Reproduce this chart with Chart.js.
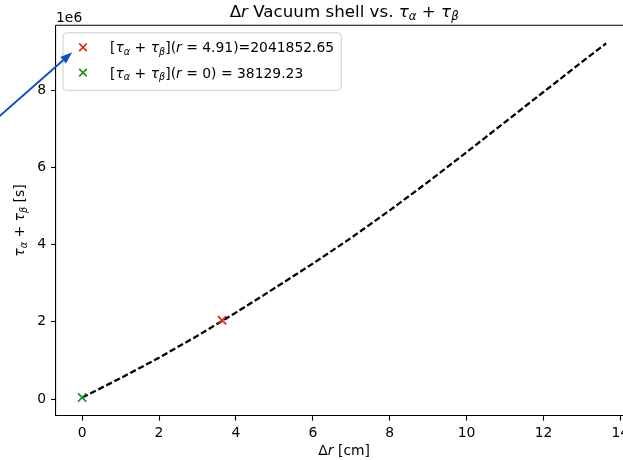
<!DOCTYPE html>
<html>
<head>
<meta charset="utf-8">
<script src="https://cdn.jsdelivr.net/npm/chart.js@4/dist/chart.umd.min.js"></script>
<style>
  html, body { margin: 0; padding: 0; background: #fff; overflow: hidden; }
  canvas { display: block; }
</style>
</head>
<body>
<canvas id="chart" width="645" height="460"></canvas>
<script>
// Vacuum shell thickness Δr [cm] against total time τα + τβ [s]
const drCm = [0, 1, 2, 3, 4, 5, 6, 7, 8, 9, 10, 11, 12, 13, 13.63];
const tauSum = [38129, 540000, 1070000, 1640000, 2240000, 2870000, 3510000, 4180000,
                4890000, 5630000, 6400000, 7180000, 7960000, 8740000, 9220000];

// highlighted points: Δr, τα + τβ and the radius quoted in the legend
const markDr = [3.64, 0];
const markTau = [2041852.65, 38129.23];
const markR = ['4.91', '0'];
const markSep = ['=', ' = '];
const markColors = ['#e8201c', '#1f8f1f'];

const xTicks = [0, 2, 4, 6, 8, 10, 12, 14];
const xTickLabels = ['0', '2', '4', '6', '8', '10', '12', '14'];
const yTicks = [0, 2e6, 4e6, 6e6, 8e6];
const yTickLabels = ['0', '2', '4', '6', '8'];
const yOffsetText = '1e6';

const FONT = '"DejaVu Sans", sans-serif';
const FS = 13.9;

// rich text: runs of {t, i (italic), sub (subscript)}
function richWidth(ctx, runs, size) {
  let w = 0;
  runs.forEach(r => {
    ctx.font = `${r.i ? 'italic ' : ''}${r.sub ? size * 0.7 : size}px ${FONT}`;
    w += ctx.measureText(r.t).width;
  });
  return w;
}
function drawRich(ctx, runs, x, y, size, align) {
  const w = richWidth(ctx, runs, size);
  let cx = align === 'center' ? x - w / 2 : align === 'right' ? x - w : x;
  ctx.textAlign = 'left';
  ctx.textBaseline = 'alphabetic';
  runs.forEach(r => {
    ctx.font = `${r.i ? 'italic ' : ''}${r.sub ? size * 0.7 : size}px ${FONT}`;
    ctx.fillText(r.t, cx, y + (r.sub ? size * 0.2 : 0));
    cx += ctx.measureText(r.t).width;
  });
}

const tauRuns = [
  { t: 'τ', i: 1 }, { t: 'α', i: 1, sub: 1 }, { t: ' + ' },
  { t: 'τ', i: 1 }, { t: 'β', i: 1, sub: 1 }
];
const titleRuns = [{ t: 'Δ' }, { t: 'r', i: 1 }, { t: ' Vacuum shell vs. ' }, ...tauRuns];
const xLabelRuns = [{ t: 'Δ' }, { t: 'r', i: 1 }, { t: ' [cm]' }];
const yLabelRuns = [...tauRuns, { t: ' [s]' }];
const legendRuns = markTau.map((v, i) => [
  { t: '[' }, ...tauRuns, { t: '](' }, { t: 'r', i: 1 },
  { t: ' = ' + markR[i] + ')' + markSep[i] + v.toFixed(2) }
]);

function drawCross(ctx, x, y, h, color) {
  ctx.save();
  ctx.strokeStyle = color;
  ctx.lineWidth = 1.7;
  ctx.beginPath();
  ctx.moveTo(x - h, y - h); ctx.lineTo(x + h, y + h);
  ctx.moveTo(x - h, y + h); ctx.lineTo(x + h, y - h);
  ctx.stroke();
  ctx.restore();
}

const framePlugin = {
  id: 'frame',
  afterDatasetsDraw(chart) {
    const { ctx, chartArea: a } = chart;
    ctx.save();
    ctx.strokeStyle = '#000';
    ctx.lineWidth = 1.1;
    ctx.beginPath();
    ctx.moveTo(a.left, a.top); ctx.lineTo(a.right, a.top); ctx.lineTo(a.right, a.bottom);
    ctx.stroke();
    ctx.restore();
  }
};

const textPlugin = {
  id: 'texts',
  afterDraw(chart) {
    const { ctx, chartArea: a } = chart;
    const mid = (a.left + a.right) / 2;
    ctx.save();
    ctx.fillStyle = '#000';
    drawRich(ctx, titleRuns, mid, a.top - 8.5, 16.7, 'center');
    drawRich(ctx, xLabelRuns, mid, 455, FS, 'center');
    ctx.font = `${FS}px ${FONT}`;
    ctx.textAlign = 'left';
    ctx.fillText(yOffsetText, a.left, 21.7);
    ctx.translate(24, (a.top + a.bottom) / 2);
    ctx.rotate(-Math.PI / 2);
    drawRich(ctx, yLabelRuns, 0, 0, FS, 'center');
    ctx.restore();
  }
};

const legendPlugin = {
  id: 'customLegend',
  afterDraw(chart) {
    const { ctx, chartArea: a } = chart;
    const lx = a.left + 7, ly = a.top + 7.5;
    const textW = Math.max(...legendRuns.map(r => richWidth(ctx, r, FS)));
    const lw = 47 + textW + 7, lh = 57.5;
    ctx.save();
    ctx.fillStyle = 'rgba(255,255,255,0.8)';
    ctx.strokeStyle = '#cccccc';
    ctx.lineWidth = 1;
    ctx.beginPath();
    ctx.roundRect(lx, ly, lw, lh, 3.5);
    ctx.fill();
    ctx.stroke();
    ctx.fillStyle = '#000';
    legendRuns.forEach((runs, i) => {
      const cy = ly + 14.5 + i * 25.3;
      drawCross(ctx, lx + 20, cy, 3.8, markColors[i]);
      drawRich(ctx, runs, lx + 47, cy + 5, FS, 'left');
    });
    ctx.restore();
  }
};

// annotation arrow pointing at the first legend entry, in data coordinates
const arrowFrom = { x: -2.7, y: 6.85e6 };
const arrowTo = { x: -0.26, y: 8.99e6 };
const arrowPlugin = {
  id: 'arrow',
  afterDraw(chart) {
    const { ctx, scales: { x, y } } = chart;
    const x0 = x.getPixelForValue(arrowFrom.x), y0 = y.getPixelForValue(arrowFrom.y);
    const x1 = x.getPixelForValue(arrowTo.x), y1 = y.getPixelForValue(arrowTo.y);
    const ang = Math.atan2(y1 - y0, x1 - x0);
    const hl = 12, hw = 4.4;
    const bx = x1 - hl * Math.cos(ang), by = y1 - hl * Math.sin(ang);
    ctx.save();
    ctx.strokeStyle = ctx.fillStyle = '#0b4fc4';
    ctx.lineWidth = 1.9;
    ctx.beginPath();
    ctx.moveTo(x0, y0); ctx.lineTo(bx, by);
    ctx.stroke();
    ctx.beginPath();
    ctx.moveTo(x1, y1);
    ctx.lineTo(bx + hw * Math.sin(ang), by - hw * Math.cos(ang));
    ctx.lineTo(bx - hw * Math.sin(ang), by + hw * Math.cos(ang));
    ctx.closePath();
    ctx.fill();
    ctx.restore();
  }
};

const axisCommon = {
  type: 'linear',
  grid: { drawOnChartArea: false, drawTicks: true, tickLength: 4.9, tickColor: '#000', tickWidth: 1.1 },
  border: { display: true, color: '#000', width: 1.1 }
};

new Chart(document.getElementById('chart'), {
  type: 'scatter',
  data: {
    datasets: [
      {
        data: drCm.map((v, i) => ({ x: v, y: tauSum[i] })),
        showLine: true,
        borderColor: '#000',
        borderWidth: 2.3,
        borderDash: [6.2, 2.8],
        pointRadius: 0,
        fill: false,
        order: 2
      },
      ...markDr.map((v, i) => ({
        data: [{ x: v, y: markTau[i] }],
        pointStyle: 'crossRot',
        pointRadius: 5.8,
        borderColor: markColors[i],
        borderWidth: 1.7,
        order: 1
      }))
    ]
  },
  options: {
    responsive: false,
    animation: false,
    events: [],
    layout: { padding: { left: 0, top: 25.3, right: 645 - 632.3, bottom: 0 } },
    plugins: { legend: { display: false }, title: { display: false }, tooltip: { enabled: false } },
    scales: {
      x: {
        ...axisCommon,
        min: -0.68,
        max: 14.31,
        afterFit: s => { s.height = 44.3; },
        afterBuildTicks: s => { s.ticks = xTicks.map(v => ({ value: v })); },
        ticks: {
          color: '#000', font: { family: FONT, size: FS }, padding: 4.6,
          maxRotation: 0, autoSkip: false,
          callback: (v, i) => xTickLabels[i]
        }
      },
      y: {
        ...axisCommon,
        min: -0.433e6,
        max: 9.69e6,
        afterFit: s => { s.width = 56; },
        afterBuildTicks: s => { s.ticks = yTicks.map(v => ({ value: v })); },
        ticks: {
          color: '#000', font: { family: FONT, size: FS }, padding: 4.9,
          autoSkip: false,
          callback: (v, i) => yTickLabels[i]
        }
      }
    }
  },
  plugins: [framePlugin, legendPlugin, arrowPlugin, textPlugin]
});
</script>
</body>
</html>
